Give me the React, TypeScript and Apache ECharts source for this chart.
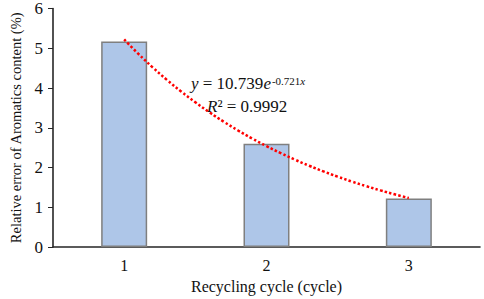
import React, { useEffect, useRef } from "react";
import * as echarts from "echarts";

const categories = ["1", "2", "3"];
const errorValues = [5.17, 2.6, 1.22];
const yTicks = [0, 1, 2, 3, 4, 5, 6];
// Exponential trendline coefficients as printed on the chart: y = A * e^(B x)
const trendA = 10.739;
const trendB = -0.721;
const trendR2 = "0.9992";
const trendXs = [1, 1.1, 1.2, 1.3, 1.4, 1.5, 1.6, 1.7, 1.8, 1.9, 2, 2.1, 2.2, 2.3, 2.4, 2.5, 2.6, 2.7, 2.8, 2.9, 3];

const SERIF = "'Liberation Serif', 'Times New Roman', serif";

export default function App() {
  const ref = useRef<HTMLDivElement>(null);
  useEffect(() => {
    document.body.style.margin = "0";
    const chart = echarts.init(ref.current!, null, { renderer: "svg" });
    const trend = trendXs.map((x) => [x, trendA * Math.exp(trendB * x)]);
    chart.setOption({
      animation: false,
      textStyle: { fontFamily: SERIF },
      grid: { left: 43, right: 4, top: 8, bottom: 44 },
      xAxis: [
        {
          type: "category",
          data: categories,
          axisLine: { lineStyle: { color: "#262626", width: 1.6 } },
          axisTick: { alignWithLabel: true, length: 5, lineStyle: { color: "#262626" } },
          axisLabel: { color: "#111", fontSize: 16, fontFamily: SERIF, margin: 10 },
          name: "Recycling cycle (cycle)",
          nameLocation: "middle",
          nameGap: 28,
          nameTextStyle: { color: "#111", fontSize: 16, fontFamily: SERIF },
        },
        {
          type: "value",
          min: 0.5,
          max: 3.5,
          show: false,
        },
      ],
      yAxis: {
        type: "value",
        min: 0,
        max: 6,
        interval: 1,
        splitLine: { show: false },
        axisLine: { show: true, lineStyle: { color: "#262626", width: 1.6 } },
        axisTick: { show: true, inside: false, length: 5, lineStyle: { color: "#262626" } },
        axisLabel: {
          color: "#111",
          fontSize: 17,
          fontFamily: SERIF,
          margin: 10,
          formatter: (v: number) => (yTicks.includes(v) ? String(v) : ""),
        },
        name: "Relative error of Aromatics content (%)",
        nameLocation: "middle",
        nameGap: 30,
        nameTextStyle: { color: "#111", fontSize: 14.5, fontFamily: SERIF },
      },
      series: [
        {
          type: "bar",
          data: errorValues,
          barWidth: 46,
          itemStyle: { color: "#aec6e8", borderColor: "#7f7f7f", borderWidth: 1.5 },
        },
        {
          type: "line",
          xAxisIndex: 1,
          data: trend,
          showSymbol: false,
          smooth: true,
          lineStyle: { color: "#ff0000", width: 2.5, type: [2.5, 2.2] },
          z: 5,
        },
      ],
      graphic: [
        {
          type: "text",
          left: 191,
          top: 75,
          style: {
            text: `{i|y} = 10.739{i|e}{sup|${trendB}}{supi|x}`,
            font: `17px ${SERIF}`,
            fill: "#111",
            rich: {
              i: { fontStyle: "italic", fontSize: 17, fontFamily: SERIF, verticalAlign: "bottom" },
              sup: { fontSize: 11, fontFamily: SERIF, verticalAlign: "top", padding: [0, 0, 0, 1] },
              supi: { fontSize: 11, fontStyle: "italic", fontFamily: SERIF, verticalAlign: "top" },
            },
          },
        },
        {
          type: "text",
          left: 207,
          top: 98,
          style: {
            text: `{i|R}² = ${trendR2}`,
            font: `17px ${SERIF}`,
            fill: "#111",
            rich: { i: { fontStyle: "italic", fontSize: 17, fontFamily: SERIF } },
          },
        },
      ],
    });
    return () => chart.dispose();
  }, []);
  return <div ref={ref} style={{ width: 484, height: 299 }} />;
}
